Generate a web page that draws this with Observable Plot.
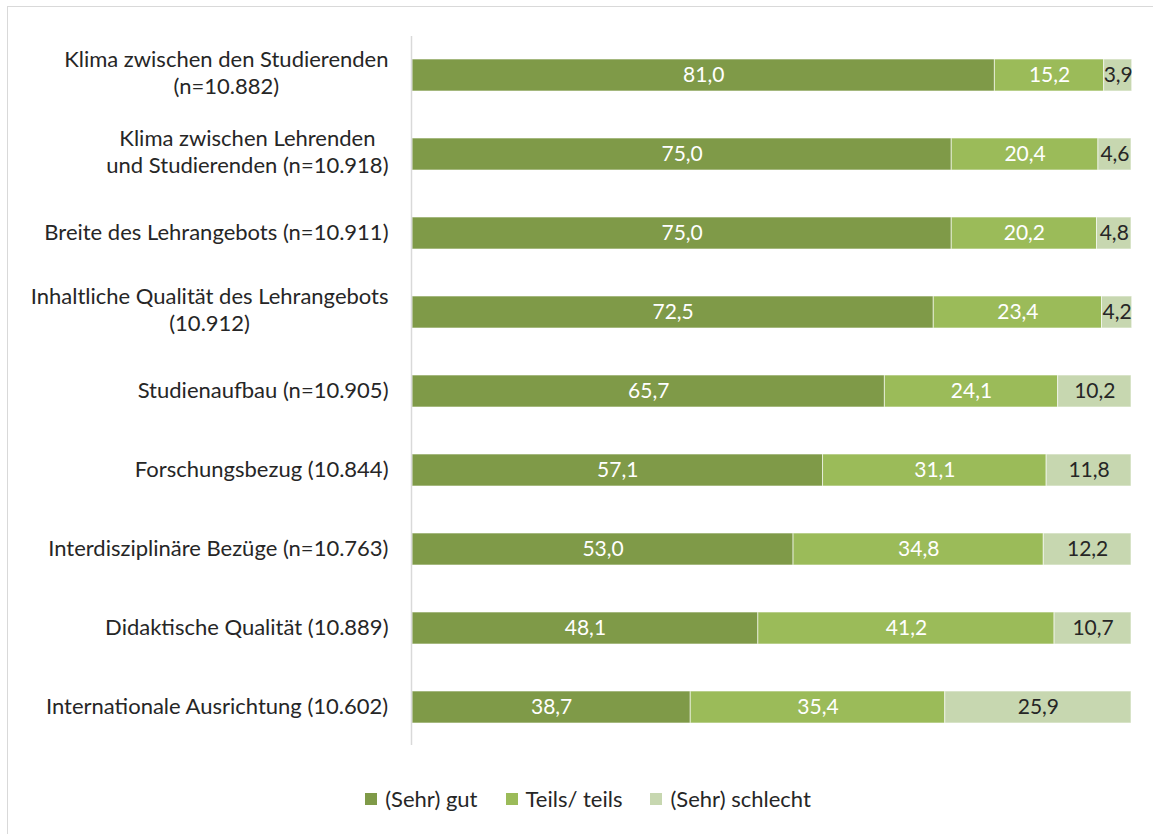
<!DOCTYPE html>
<html>
<head>
<meta charset="utf-8">
<script src="https://cdn.jsdelivr.net/npm/d3@7"></script>
<script src="https://cdn.jsdelivr.net/npm/@observablehq/plot@0.6"></script>
<style>
  html, body { margin: 0; padding: 0; background: #fff; }
  body { width: 1153px; height: 834px; position: relative; overflow: hidden; font-family: Lato, "Open Sans", sans-serif; }
  #frame { position: absolute; left: 7px; top: 6px; width: 1200px; height: 900px; border-left: 1px solid #d9d9d9; border-top: 1px solid #d9d9d9; }
  #chart { position: absolute; left: 0; top: 0; }
  #legend { position: absolute; left: 0; top: 785px; width: 1176px; display: flex; justify-content: center; gap: 28px; font-size: 22px; color: #262626; }
  .item { display: flex; align-items: center; gap: 8px; }
  .sw { width: 12px; height: 12px; display: inline-block; }
</style>
</head>
<body>
<div id="frame"></div>
<div id="chart"></div>
<div id="legend"></div>
<script>
const categories = [
  "Klima zwischen den Studierenden\n(n=10.882)",
  "Klima zwischen Lehrenden\nund Studierenden (n=10.918)",
  "Breite des Lehrangebots (n=10.911)",
  "Inhaltliche Qualität des Lehrangebots\n(10.912)",
  "Studienaufbau (n=10.905)",
  "Forschungsbezug (10.844)",
  "Interdisziplinäre Bezüge (n=10.763)",
  "Didaktische Qualität (10.889)",
  "Internationale Ausrichtung (10.602)"
];
const seriesNames = ["(Sehr) gut", "Teils/ teils", "(Sehr) schlecht"];
const gut      = [81.0, 75.0, 75.0, 72.5, 65.7, 57.1, 53.0, 48.1, 38.7];
const teils    = [15.2, 20.4, 20.2, 23.4, 24.1, 31.1, 34.8, 41.2, 35.4];
const schlecht = [3.9, 4.6, 4.8, 4.2, 10.2, 11.8, 12.2, 10.7, 25.9];
const colors = ["#7f9a48", "#9bbb59", "#c7d7b0"];
const textColors = ["#ffffff", "#ffffff", "#262626"];

const values = [gut, teils, schlecht];
const data = [];
seriesNames.forEach((s, si) => {
  categories.forEach((c, ci) => {
    data.push({cat: c, series: s, value: values[si][ci]});
  });
});

const fmt = v => v.toFixed(1).replace(".", ",");
const labelSize = 22;
const canvas = document.createElement("canvas");
const ctx = canvas.getContext("2d");
ctx.font = labelSize + "px Lato";
const gap = 24;

const labelMarks = categories.map(c => {
  const lines = c.split("\n");
  const w = Math.max(...lines.map(l => ctx.measureText(l).width));
  return Plot.text([c], {
    x: () => 0, y: d => d, text: d => d,
    textAnchor: "middle", dx: -(gap + w / 2), dy: lines.length > 1 ? -4 : -2,
    fontSize: labelSize, fill: "#262626", lineHeight: 1.22, lineAnchor: "middle"
  });
});

const plot = Plot.plot({
  width: 1153,
  height: 770,
  marginLeft: 412,
  marginRight: 22,
  marginTop: 34.5,
  marginBottom: 23.5,
  style: {fontFamily: "Lato, 'Open Sans', sans-serif", background: "transparent", overflow: "visible"},
  x: {domain: [0, 100], axis: null},
  y: {domain: categories, axis: null, paddingInner: 0.6, paddingOuter: 0.3},
  color: {domain: seriesNames, range: colors},
  marks: [
    Plot.barX(data, Plot.stackX({x: "value", y: "cat", fill: "series", z: "series", stroke: "#ffffff", strokeWidth: 1, strokeOpacity: 0.6})),
    Plot.text(data, Plot.stackX({
      x: "value", y: "cat", z: "series",
      text: d => fmt(d.value),
      fill: d => textColors[seriesNames.indexOf(d.series)],
      fontSize: 21
    })),
    Plot.ruleX([0], {stroke: "#d9d9d9", strokeWidth: 1.5, dx: -1, y1: () => categories[0], y2: () => categories[categories.length-1], insetTop: -23, insetBottom: -22}),
    ...labelMarks
  ]
});
document.getElementById("chart").appendChild(plot);

const legend = document.getElementById("legend");
seriesNames.forEach((s, i) => {
  const item = document.createElement("span");
  item.className = "item";
  const sw = document.createElement("span");
  sw.className = "sw";
  sw.style.background = colors[i];
  const t = document.createElement("span");
  t.textContent = s;
  item.appendChild(sw);
  item.appendChild(t);
  legend.appendChild(item);
});
</script>
</body>
</html>
